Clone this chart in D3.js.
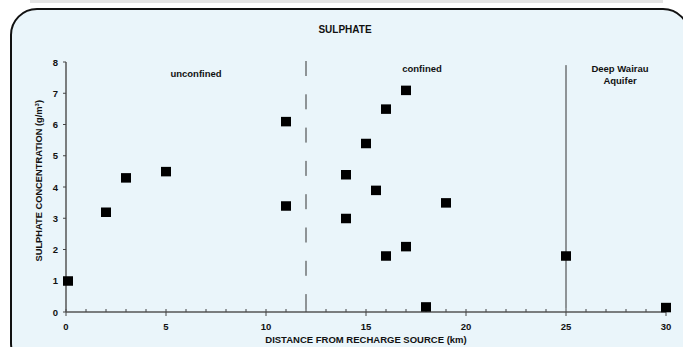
<!DOCTYPE html>
<html>
<head>
<meta charset="utf-8">
<script src="https://cdn.jsdelivr.net/npm/d3@7"></script>
<style>
  body { margin: 0; background: #fff; }
  svg text { font-family: "Liberation Sans", Arial, sans-serif; font-weight: bold; fill: #111; }
</style>
</head>
<body>
<div id="chart"></div>
<script>
// sulphate samples: distance (km) and concentration (g/m3)
var distance = [0.1, 2, 3, 5, 11, 11, 14, 14, 15, 15.5, 16, 16, 17, 17, 18, 19, 25, 30];
var sulphate = [1.0, 3.2, 4.3, 4.5, 6.1, 3.4, 4.4, 3.0, 5.4, 3.9, 6.5, 1.8, 7.1, 2.1, 0.17, 3.5, 1.8, 0.15];
var xTicks = [0, 5, 10, 15, 20, 25, 30];
var yTicks = [0, 1, 2, 3, 4, 5, 6, 7, 8];
var zoneLabels = [
  {x: 6.5, y: 7.62, lines: ["unconfined"]},
  {x: 17.8, y: 7.8, lines: ["confined"]},
  {x: 27.7, y: 7.8, lines: ["Deep Wairau", "Aquifer"]}
];
var dashedAt = 12, solidAt = 25;

var W = 683, H = 347;
var margin = {left: 66, right: 17, top: 62, bottom: 35};

var svg = d3.select("#chart").append("svg")
  .attr("width", W).attr("height", H);

// thin grey strip at top and rounded panel
svg.append("rect").attr("x", 30).attr("y", 0).attr("width", 633).attr("height", 3).attr("fill", "#e4e4e4");
svg.append("rect")
  .attr("x", 11).attr("y", 9).attr("width", 678).attr("height", 360)
  .attr("rx", 26).attr("ry", 26)
  .attr("fill", "#eaf5fa").attr("stroke", "#111").attr("stroke-width", 2);

var x = d3.scaleLinear().domain([0, 30]).range([margin.left, W - margin.right]);
var y = d3.scaleLinear().domain([0, 8]).range([H - margin.bottom, margin.top]);

// divider lines
svg.append("line")
  .attr("x1", x(dashedAt)).attr("x2", x(dashedAt))
  .attr("y1", y(8) - 1).attr("y2", y(0))
  .attr("stroke", "#333").attr("stroke-width", 1)
  .attr("stroke-dasharray", "15,18.3");
svg.append("line")
  .attr("x1", x(solidAt)).attr("x2", x(solidAt))
  .attr("y1", y(7.9)).attr("y2", y(0.1))
  .attr("stroke", "#333").attr("stroke-width", 1);

// x axis
var xAxis = svg.append("g").attr("transform", "translate(0," + y(0) + ")");
xAxis.append("line").attr("x1", x(0)).attr("x2", x(30)).attr("stroke", "#555").attr("stroke-width", 1.5);
xAxis.selectAll(".minor").data(d3.range(0, 31)).enter().append("line")
  .attr("x1", d => x(d)).attr("x2", d => x(d))
  .attr("y1", -3)
  .attr("y2", d => d % 5 === 0 ? 4 : 0)
  .attr("stroke", "#444").attr("stroke-width", 1);
xAxis.selectAll(".lbl").data(xTicks).enter().append("text")
  .attr("x", d => x(d)).attr("y", 17.5)
  .attr("text-anchor", "middle").attr("font-size", 9.5).text(d => d);

// y axis
var yAxis = svg.append("g").attr("transform", "translate(" + x(0) + ",0)");
yAxis.append("line").attr("y1", y(0)).attr("y2", y(8)).attr("stroke", "#555").attr("stroke-width", 1.5);
yAxis.selectAll(".tk").data(yTicks).enter().append("line")
  .attr("x1", -3).attr("x2", 0).attr("y1", d => y(d)).attr("y2", d => y(d))
  .attr("stroke", "#444").attr("stroke-width", 1);
yAxis.selectAll(".lbl").data(yTicks).enter().append("text")
  .attr("x", -8).attr("y", d => y(d) + 3.5)
  .attr("text-anchor", "end").attr("font-size", 9.5).text(d => d);

// titles
svg.append("text").attr("x", 345).attr("y", 33).attr("text-anchor", "middle")
  .attr("font-size", 10).text("SULPHATE");
svg.append("text").attr("x", x(15)).attr("y", 343).attr("text-anchor", "middle")
  .attr("font-size", 9.5).text("DISTANCE FROM RECHARGE SOURCE (km)");
var yt = svg.append("text").attr("transform", "translate(42," + y(4.2) + ") rotate(-90)")
  .attr("text-anchor", "middle").attr("font-size", 9.3);
yt.append("tspan").text("SULPHATE CONCENTRATION (g/m");
yt.append("tspan").attr("font-size", 6).attr("dy", -3.5).text("3");
yt.append("tspan").attr("dy", 3.5).text(")");

// zone labels
zoneLabels.forEach(function(z) {
  var t = svg.append("text").attr("text-anchor", "middle").attr("font-size", 9.5);
  z.lines.forEach(function(s, i) {
    t.append("tspan").attr("x", x(z.x)).attr("y", y(z.y) + 3.5 + i * 12).text(s);
  });
});

// markers
var pts = distance.map((d, i) => ({d: d, v: sulphate[i]}));
svg.selectAll(".pt").data(pts).enter().append("rect")
  .attr("x", p => x(p.d) - 5).attr("y", p => y(p.v) - 4.5)
  .attr("width", 10).attr("height", 9.5).attr("fill", "#000");
</script>
</body>
</html>
